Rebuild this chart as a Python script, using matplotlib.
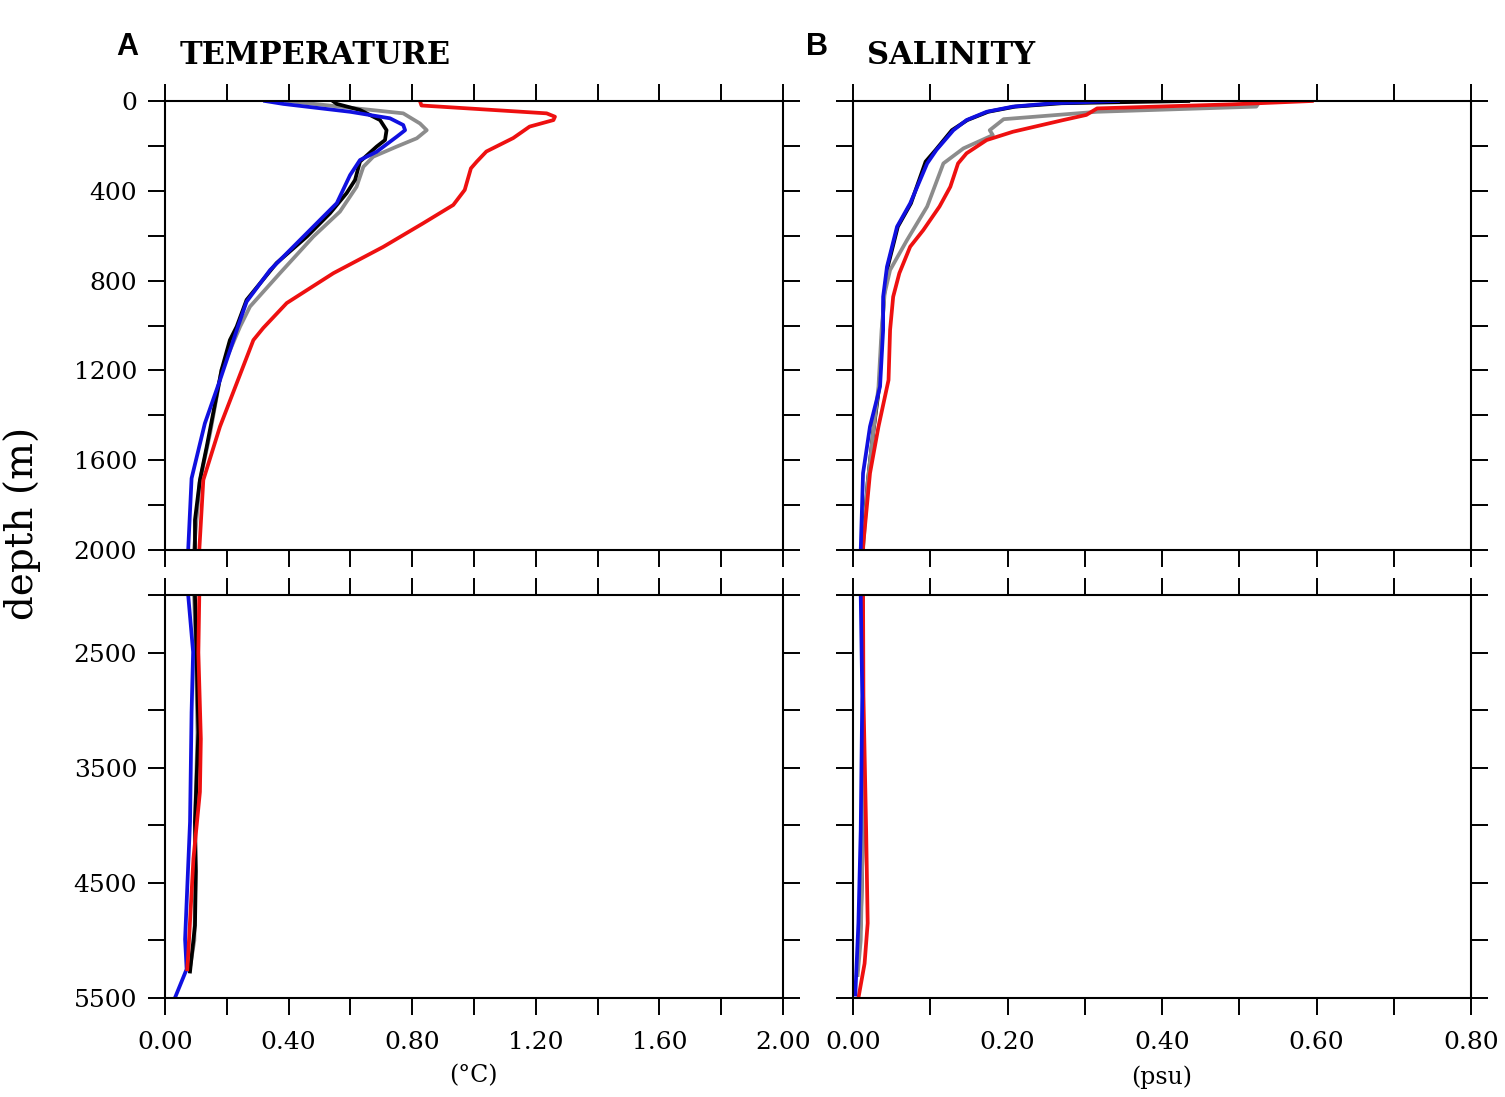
import matplotlib
matplotlib.use("Agg")
import matplotlib.pyplot as plt
import numpy as np

plt.rcParams['font.family'] = ['DejaVu Serif']

# ---- temperature profiles (depth m, degC) ----
t_red_d = [0, 20, 55, 70, 85, 114, 165, 225, 270, 300, 396, 463, 545, 650, 767, 900, 1011, 1065,
           1450, 1688, 2000, 2500, 3250, 3710, 4290, 5130, 5250]
t_red = [0.825, 0.83, 1.235, 1.262, 1.257, 1.18, 1.127, 1.04, 1.009, 0.99, 0.97, 0.933, 0.835, 0.706,
         0.545, 0.394, 0.318, 0.286, 0.178, 0.124, 0.111, 0.108, 0.116, 0.113, 0.092, 0.075, 0.072]

t_black_d = [0, 13, 40, 85, 130, 174, 203, 270, 352, 410, 500, 604, 722, 886, 1005, 1065, 1198,
             1540, 1688, 1866, 2000, 2500, 3190, 3970, 4400, 4870, 5270]
t_black = [0.543, 0.556, 0.631, 0.696, 0.717, 0.712, 0.685, 0.631, 0.615, 0.588, 0.534, 0.459, 0.361,
           0.264, 0.232, 0.21, 0.183, 0.135, 0.113, 0.097, 0.097, 0.102, 0.108, 0.097, 0.1, 0.097, 0.081]

t_blue_d = [0, 13, 48, 77, 107, 130, 159, 226, 263, 330, 455, 575, 753, 894, 1005, 1243, 1436,
            1681, 2000, 2495, 3020, 3970, 4990, 5250, 5500]
t_blue = [0.324, 0.383, 0.599, 0.728, 0.771, 0.777, 0.75, 0.685, 0.631, 0.599, 0.556, 0.469, 0.34,
          0.264, 0.236, 0.178, 0.129, 0.086, 0.075, 0.091, 0.086, 0.081, 0.065, 0.07, 0.032]

t_gray_d = [0, 33, 55, 100, 130, 166, 203, 248, 293, 382, 493, 604, 767, 916, 1005, 1198, 1480,
            1700, 2000, 2500, 3200, 4000, 4500, 5000, 5250]
t_gray = [0.394, 0.62, 0.771, 0.825, 0.847, 0.815, 0.75, 0.674, 0.642, 0.62, 0.566, 0.48, 0.372,
          0.275, 0.243, 0.183, 0.146, 0.112, 0.094, 0.1, 0.105, 0.097, 0.098, 0.095, 0.08]

# ---- salinity profiles (depth m, psu) ----
s_red_d = [0, 15, 33, 62, 85, 137, 174, 233, 278, 382, 470, 575, 649, 767, 872, 1020, 1243, 1450,
           1658, 1985, 2875, 4040, 4850, 5200, 5500]
s_red = [0.594, 0.49, 0.316, 0.302, 0.272, 0.207, 0.173, 0.147, 0.136, 0.126, 0.112, 0.091, 0.074,
         0.06, 0.052, 0.048, 0.046, 0.033, 0.022, 0.013, 0.0135, 0.017, 0.019, 0.015, 0.007]

s_gray_d = [0, 25, 48, 81, 130, 152, 211, 278, 470, 619, 753, 857, 1020, 1272, 1480, 1700, 2000,
            3000, 4000, 5000, 5300]
s_gray = [0.527, 0.522, 0.316, 0.195, 0.177, 0.181, 0.143, 0.117, 0.096, 0.07, 0.048, 0.041, 0.037,
          0.033, 0.026, 0.019, 0.013, 0.013, 0.013, 0.01, 0.006]

s_black_d = [0, 10, 25, 48, 85, 130, 218, 270, 456, 560, 738, 872, 1020, 1272, 1480, 1700, 2000,
             3000, 4040, 4850, 5300]
s_black = [0.434, 0.27, 0.21, 0.175, 0.148, 0.128, 0.107, 0.094, 0.075, 0.058, 0.045, 0.04, 0.038,
           0.034, 0.026, 0.019, 0.012, 0.013, 0.013, 0.01, 0.005]

s_blue_d = [0, 10, 25, 48, 85, 130, 218, 278, 456, 560, 738, 872, 1020, 1272, 1450, 1658, 2000,
            2875, 4040, 4850, 5470]
s_blue = [0.343, 0.259, 0.207, 0.173, 0.147, 0.13, 0.108, 0.096, 0.074, 0.057, 0.044, 0.039, 0.039,
          0.035, 0.022, 0.013, 0.01, 0.012, 0.01, 0.007, 0.003]

temp_lines = [(t_gray, t_gray_d, '#8c8c8c'), (t_black, t_black_d, 'black'),
              (t_blue, t_blue_d, '#1010e0'), (t_red, t_red_d, '#ee1010')]
sal_lines = [(s_black, s_black_d, 'black'), (s_gray, s_gray_d, '#8c8c8c'),
             (s_red, s_red_d, '#ee1010'), (s_blue, s_blue_d, '#1010e0')]

W, H = 1505, 1097
fig = plt.figure(figsize=(W / 100, H / 100), dpi=100)


def box(x0, x1, ytop, ybot):
    return [x0 / W, 1 - ybot / H, (x1 - x0) / W, (ybot - ytop) / H]


def style(ax, xmax, xstep, upper, show_ylab, show_xlab):
    for s in ax.spines.values():
        s.set_linewidth(1.5)
    ax.tick_params(which='both', direction='out', length=12, width=1.4,
                   top=True, bottom=True, left=True, right=True,
                   labelsize=18, pad=8)
    ax.tick_params(axis='x', pad=12)
    xt = np.arange(0, xmax + xstep / 2, xstep)
    ax.set_xticks(xt[::2])
    ax.set_xticks(xt[1::2], minor=True)
    ax.set_xlim(0, xmax)
    if show_xlab:
        ax.set_xticklabels(['%.2f' % v for v in xt[::2]])
    else:
        ax.set_xticklabels([])
    if upper:
        ax.set_ylim(2000, 0)
        ax.set_yticks([0, 400, 800, 1200, 1600, 2000])
        ax.set_yticks([200, 600, 1000, 1400, 1800], minor=True)
    else:
        ax.set_ylim(5500, 2000)
        ax.set_yticks([2500, 3500, 4500, 5500])
        ax.set_yticks([2000, 3000, 4000, 5000], minor=True)
    if not show_ylab:
        ax.set_yticklabels([])


panels = [(165, 783, temp_lines, 2.0, 0.2, True), (853, 1471, sal_lines, 0.8, 0.1, False)]
for x0, x1, lines, xmax, xstep, ylab in panels:
    for upper, (yt, yb) in [(True, (101, 550)), (False, (595, 998))]:
        ax = fig.add_axes(box(x0, x1, yt, yb))
        for vals, dep, col in lines:
            ax.plot(vals, dep, color=col, lw=2.7)
        style(ax, xmax, xstep, upper, ylab, not upper)

fig.text(22 / W, 1 - 523 / H, 'depth (m)', rotation=90, ha='center', va='center', fontsize=28)
fig.text(473 / W, 1 - 1076 / H, '(\u00b0C)', ha='center', va='center', fontsize=17)
fig.text(1162 / W, 1 - 1077 / H, '(psu)', ha='center', va='center', fontsize=17)

fig.text(127 / W, 1 - 47 / H, 'A', ha='center', va='center', fontsize=22,
         fontweight='bold', family='Liberation Sans')
fig.text(817 / W, 1 - 47 / H, 'B', ha='center', va='center', fontsize=22,
         fontweight='bold', family='Liberation Sans')
fig.text(180 / W, 1 - 55 / H, 'TEMPERATURE', ha='left', va='center', fontsize=22, fontweight='bold')
fig.text(867 / W, 1 - 55 / H, 'SALINITY', ha='left', va='center', fontsize=22, fontweight='bold')

fig.savefig('out.png', dpi=100)
